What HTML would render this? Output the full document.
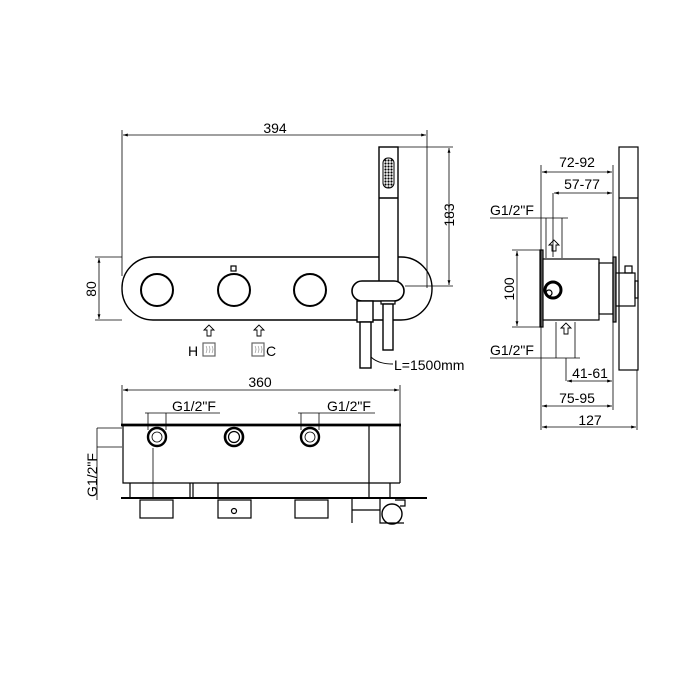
<!DOCTYPE html>
<html><head><style>html,body{margin:0;padding:0;background:#fff}svg{display:block}text{font-family:"Liberation Sans",Arial,sans-serif;fill:#000}</style></head>
<body>
<svg width="700" height="700" viewBox="0 0 700 700" xmlns="http://www.w3.org/2000/svg">
<defs><marker id="a" viewBox="0 0 10 10" refX="10" refY="5" markerWidth="6" markerHeight="6" orient="auto-start-reverse"><path d="M0,2 L10,5 L0,8 z" fill="#000"/></marker>
<pattern id="dots" width="3" height="3" patternUnits="userSpaceOnUse"><circle cx="1.5" cy="1.5" r="1.1" fill="#000"/></pattern></defs>
<g stroke="#000" fill="none" stroke-width="1.2">
<!-- FRONT VIEW -->
<line x1="122" y1="130" x2="122" y2="276" stroke-width="0.8"/>
<line x1="427" y1="130" x2="427" y2="288" stroke-width="0.8"/>
<line x1="123" y1="135" x2="426" y2="135" marker-start="url(#a)" marker-end="url(#a)" stroke-width="0.8"/>
<rect x="122" y="257" width="310" height="63" rx="31" stroke-width="1.4"/>
<circle cx="157" cy="290" r="16" stroke-width="2"/>
<circle cx="234" cy="290" r="16" stroke-width="2"/>
<circle cx="310" cy="290" r="16" stroke-width="2"/>
<rect x="231" y="266" width="5" height="5"/>
<line x1="95" y1="257" x2="122" y2="257" stroke-width="0.8"/>
<line x1="95" y1="320" x2="122" y2="320" stroke-width="0.8"/>
<line x1="99" y1="258" x2="99" y2="319" marker-start="url(#a)" marker-end="url(#a)" stroke-width="0.8"/>
<!-- shower -->
<rect x="379" y="147" width="19" height="136" fill="#fff" stroke-width="1.4"/>
<line x1="379" y1="198" x2="398" y2="198" stroke-width="1.4"/>
<rect x="383" y="158" width="11" height="30" rx="5" fill="url(#dots)" stroke="#000" stroke-width="1"/>
<line x1="398" y1="147" x2="453" y2="147" stroke-width="0.8"/>
<line x1="405" y1="286" x2="453" y2="286" stroke-width="0.8"/>
<line x1="449" y1="148" x2="449" y2="285" marker-start="url(#a)" marker-end="url(#a)" stroke-width="0.8"/>
<rect x="352" y="281" width="52" height="20" rx="10" fill="#fff" stroke-width="1.6"/>
<rect x="357" y="301" width="16" height="21" fill="#fff" stroke-width="1.4"/>
<rect x="360" y="322" width="11" height="46" fill="#fff" stroke-width="1.4"/>
<rect x="381" y="301" width="14" height="3" fill="#fff"/>
<rect x="383" y="304" width="10" height="46" fill="#fff" stroke-width="1.4"/>
<path d="M371,357 Q378,364 393,364" stroke-width="0.9"/>
<!-- arrows H C -->
<path d="M209,325 l-5,5 h3 v6 h4 v-6 h3 z" stroke-width="0.9"/>
<path d="M259,325 l-5,5 h3 v6 h4 v-6 h3 z" stroke-width="0.9"/>
<rect x="203" y="343" width="12" height="13" stroke="#666"/>
<rect x="252" y="343" width="12" height="13" stroke="#666"/>
<path d="M206,346 q2,3 0,7 M209,346 q2,3 0,7 M212,346 q2,3 0,7" stroke="#888" stroke-width="0.6"/>
<path d="M255,346 q2,3 0,7 M258,346 q2,3 0,7 M261,346 q2,3 0,7" stroke="#888" stroke-width="0.6"/>
<!-- BOTTOM VIEW -->
<line x1="122" y1="385" x2="122" y2="425" stroke-width="0.8"/>
<line x1="400" y1="385" x2="400" y2="425" stroke-width="0.8"/>
<line x1="123" y1="390" x2="399" y2="390" marker-start="url(#a)" marker-end="url(#a)" stroke-width="0.8"/>
<line x1="121" y1="425" x2="401" y2="425" stroke-width="2.8"/>
<path d="M123,426 V483 H400 M369,426 V498 M400,426 V483"/>
<path d="M130,483 V498 M190,483 V498 M193,483 V498 M218,483 V498 M390,483 V498"/>
<line x1="121" y1="498" x2="427" y2="498" stroke-width="2"/>
<rect x="140" y="500" width="33" height="18"/>
<rect x="218" y="500" width="33" height="18"/>
<circle cx="234" cy="511" r="2.5"/>
<rect x="295" y="500" width="33" height="18"/>
<path d="M352,499 V523 M352,510 H380 M380,499 V523 H404"/>
<circle cx="392" cy="514" r="10" stroke-width="1.4"/>
<path d="M395,500 h10 v6 h-5"/>
<circle cx="157" cy="437" r="9" stroke-width="2.4"/>
<circle cx="157" cy="437" r="5" stroke-width="0.8"/>
<circle cx="234" cy="437" r="9" stroke-width="2.6"/>
<circle cx="234" cy="437" r="5.5" stroke-width="1.2"/>
<circle cx="310" cy="437" r="9" stroke-width="2.4"/>
<circle cx="310" cy="437" r="5" stroke-width="0.8"/>
<line x1="153" y1="448" x2="153" y2="498" stroke-width="0.8"/>
<line x1="145" y1="413" x2="220" y2="413" stroke-width="0.8"/>
<line x1="148" y1="413" x2="148" y2="430" stroke-width="0.8"/>
<line x1="166" y1="413" x2="166" y2="430" stroke-width="0.8"/>
<line x1="298" y1="413" x2="375" y2="413" stroke-width="0.8"/>
<line x1="301" y1="413" x2="301" y2="430" stroke-width="0.8"/>
<line x1="319" y1="413" x2="319" y2="430" stroke-width="0.8"/>
<line x1="97" y1="428" x2="122" y2="428" stroke-width="0.8"/>
<line x1="97" y1="447" x2="122" y2="447" stroke-width="0.8"/>
<line x1="97" y1="428" x2="97" y2="500" stroke-width="0.8"/>
<!-- SIDE VIEW -->
<rect x="540" y="250" width="3" height="77" fill="#888"/>
<rect x="543" y="259" width="56" height="61" fill="#fff"/>
<rect x="599" y="263" width="14" height="51"/>
<rect x="613" y="257" width="3" height="65" fill="#888"/>
<rect x="616" y="273" width="19" height="33" fill="#fff"/>
<rect x="619" y="147" width="19" height="223" fill="none"/>
<line x1="619" y1="198" x2="638" y2="198"/>
<rect x="635" y="281" width="3" height="17"/>
<rect x="625" y="266" width="7" height="7"/>
<circle cx="553" cy="290" r="8" stroke-width="3"/>
<circle cx="549" cy="293" r="3"/>
<line x1="541" y1="165" x2="541" y2="430" stroke-width="0.8"/>
<line x1="613" y1="165" x2="613" y2="410" stroke-width="0.8"/>
<line x1="637" y1="370" x2="637" y2="430" stroke-width="0.8"/>
<line x1="542" y1="172" x2="612" y2="172" marker-start="url(#a)" marker-end="url(#a)" stroke-width="0.8"/>
<line x1="554" y1="193" x2="612" y2="193" marker-start="url(#a)" marker-end="url(#a)" stroke-width="0.8"/>
<line x1="553" y1="193" x2="553" y2="257" stroke-width="0.8"/>
<line x1="490" y1="218" x2="568" y2="218" stroke-width="0.8"/>
<line x1="546" y1="218" x2="546" y2="258" stroke-width="0.8"/>
<line x1="562" y1="218" x2="562" y2="258" stroke-width="0.8"/>
<line x1="556" y1="322" x2="556" y2="358" stroke-width="0.8"/>
<line x1="575" y1="322" x2="575" y2="358" stroke-width="0.8"/>
<line x1="490" y1="358" x2="580" y2="358" stroke-width="0.8"/>
<line x1="566" y1="358" x2="566" y2="381" stroke-width="0.8"/>
<line x1="567" y1="381" x2="612" y2="381" marker-start="url(#a)" marker-end="url(#a)" stroke-width="0.8"/>
<line x1="542" y1="406" x2="612" y2="406" marker-start="url(#a)" marker-end="url(#a)" stroke-width="0.8"/>
<line x1="542" y1="427" x2="636" y2="427" marker-start="url(#a)" marker-end="url(#a)" stroke-width="0.8"/>
<line x1="512" y1="250" x2="540" y2="250" stroke-width="0.8"/>
<line x1="512" y1="327" x2="540" y2="327" stroke-width="0.8"/>
<line x1="517" y1="251" x2="517" y2="326" marker-start="url(#a)" marker-end="url(#a)" stroke-width="0.8"/>
<path d="M554,240 l-5,5 h3 v6 h4 v-6 h3 z" stroke-width="0.9"/>
<path d="M566,323 l-5,5 h3 v6 h4 v-6 h3 z" stroke-width="0.9"/>
</g>
<text x="275" y="133" font-size="14" text-anchor="middle">394</text>
<text transform="translate(454,215) rotate(-90)" font-size="14" text-anchor="middle">183</text>
<text transform="translate(96,289) rotate(-90)" font-size="14" text-anchor="middle">80</text>
<text x="188" y="356" font-size="14">H</text>
<text x="266" y="356" font-size="14">C</text>
<text x="394" y="370" font-size="14">L=1500mm</text>
<text x="260" y="387" font-size="14" text-anchor="middle">360</text>
<text x="172" y="411" font-size="14">G1/2"F</text>
<text x="327" y="411" font-size="14">G1/2"F</text>
<text transform="translate(97,475) rotate(-90)" font-size="14" text-anchor="middle">G1/2"F</text>
<text x="577" y="167" font-size="14" text-anchor="middle">72-92</text>
<text x="582" y="189" font-size="14" text-anchor="middle">57-77</text>
<text x="490" y="215" font-size="14">G1/2"F</text>
<text transform="translate(514,289) rotate(-90)" font-size="14" text-anchor="middle">100</text>
<text x="490" y="355" font-size="14">G1/2"F</text>
<text x="590" y="378" font-size="14" text-anchor="middle">41-61</text>
<text x="577" y="403" font-size="14" text-anchor="middle">75-95</text>
<text x="590" y="425" font-size="14" text-anchor="middle">127</text>
</svg>
</body></html>
